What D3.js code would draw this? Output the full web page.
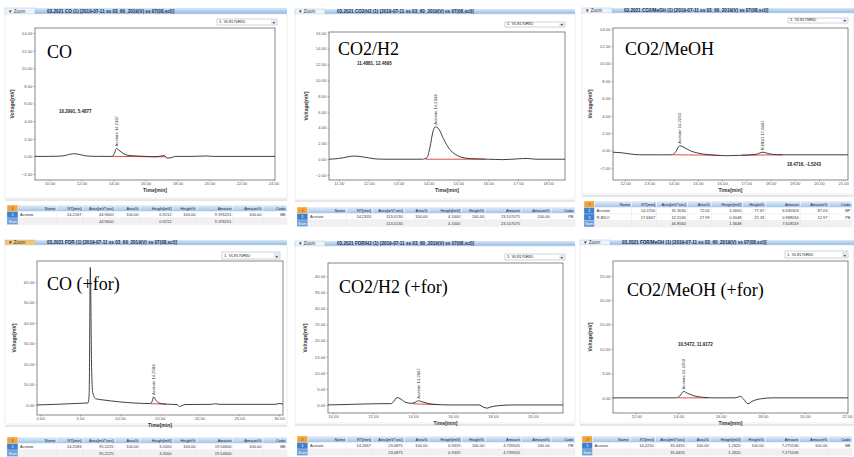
<!DOCTYPE html>
<html>
<head>
<meta charset="utf-8">
<script src="https://cdn.jsdelivr.net/npm/d3@7"></script>
<style>
  body { margin: 0; background: #fff; }
  svg { display: block; font-family: "Liberation Sans", Arial, sans-serif; }
</style>
</head>
<body>
<script>

// chart names
var panelNames = ["CO", "CO2/H2", "CO2/MeOH", "CO (+for)", "CO2/H2 (+for)", "CO2/MeOH (+for)"];

var titles = [
  "03.2021 CO (1) [2019-07-11 ss 03_60_2019(V) ss 07(08,scl)]",
  "03.2021 CO2/H2 (1) [2019-07-11 ss 03_60_2019(V) ss 07(08,scl)]",
  "03.2021 CO2/MeOH (1) [2019-07-11 ss 03_60_2019(V) ss 07(08,scl)]",
  "03.2021 FOR (1) [2019-07-11 ss 03_60_2019(V) ss 07(08,scl)]",
  "03.2021 FOR/H2 (1) [2019-07-11 ss 03_60_2019(V) ss 07(08,scl)]",
  "03.2021 FOR/MeOH (1) [2019-07-11 ss 03_60_2019(V) ss 07(08,scl)]"
];

var channel = "1. VL9170RID";

// axis domains and ticks  [time min], [mV]
var xDomains = [[9.1, 24.1], [10.67, 18.57], [11.5, 21.2], [-0.4, 30.5], [9.75, 21.5], [10.9, 22.05]];
var yDomains = [[-2.68, 14.57], [-2.63, 16.1], [-3.4, 14.1], [-4.9, 70.2], [-2.5, 44.1], [-3.1, 28]];
var xTicks = [
  [10, 12, 14, 16, 18, 20, 22, 24],
  [11, 12, 13, 14, 15, 16, 17, 18],
  [12, 13, 14, 15, 16, 17, 18, 19, 20, 21],
  [0, 5, 10, 15, 20, 25, 30],
  [10, 12, 14, 16, 18, 20],
  [12, 14, 16, 18, 20, 22]
];
var yTicks = [
  [-2, 0, 2, 4, 6, 8, 10, 12, 14],
  [-2, 0, 2, 4, 6, 8, 10, 12, 14, 16],
  [-2, 0, 2, 4, 6, 8, 10, 12, 14],
  [0, 10, 20, 30, 40, 50, 60],
  [0, 5, 10, 15, 20, 25, 30, 35, 40],
  [0, 5, 10, 15, 20, 25]
];

// chromatograms [time, mV]
var traceCO = [[9.1,0],[10,0],[10.8,0.05],[11.2,0.2],[11.5,0.3],[11.8,0.25],[12.3,0.05],[13,0],[13.9,0],
  [14.05,0.3],[14.2,0.9],[14.35,0.7],[14.6,0.35],[14.9,0.12],[15.4,0.05],[16,0],[16.6,-0.05],[17,0.05],
  [17.2,0.1],[17.35,-0.2],[17.6,-0.15],[17.9,0],[19,0],[19.8,0.05],[20.2,0],[24.1,0]];
var traceCO2H2 = [[10.67,0],[11,0.1],[11.3,0.3],[11.5,0.4],[11.8,0.3],[12.2,0.05],[12.5,0],[13.8,0],
  [13.95,0.2],[14.05,1.5],[14.15,3.5],[14.23,4.1],[14.35,3.8],[14.5,2.6],[14.7,1.3],[14.9,0.6],[15.1,0.25],
  [15.4,0.08],[16,0],[16.5,-0.05],[17,0.05],[17.3,0.1],[17.6,0],[18.57,0]];
var traceCO2MeOH = [[11.5,-0.2],[11.8,-0.25],[12.2,-0.4],[12.6,-0.5],[13.5,-0.5],[13.95,-0.5],[14.1,-0.1],
  [14.25,0.55],[14.4,0.4],[14.7,-0.05],[15,-0.3],[15.5,-0.5],[16.2,-0.6],[16.8,-0.55],[17.4,-0.45],
  [17.6,-0.25],[17.7,-0.2],[17.9,-0.35],[18.3,-0.5],[21.2,-0.5]];
var traceCOfor = [[-0.4,0],[2,0.3],[5,0.8],[6,1],[6.15,5],[6.3,67],[6.45,20],[6.6,6],[7,3],[8,2.4],[10,1.5],
  [12,0.9],[13.8,0.7],[14,1.2],[14.25,3.9],[14.5,2.5],[14.9,1],[15.5,0.5],[16.5,0.3],[17.2,0.2],[17.5,-0.8],
  [17.8,-0.3],[18.2,0.2],[21.5,0.3],[22,0.6],[22.5,0.3],[29.5,0.3],[30,0.7],[30.5,0.4]];
var traceCO2H2for = [[9.75,0],[11,0.2],[12.5,0.4],[12.9,0.4],[13.05,1.2],[13.2,2.3],[13.35,2],[13.6,0.9],
  [13.9,0.5],[14.1,0.8],[14.27,1.3],[14.5,0.9],[14.8,0.4],[15.2,0.15],[15.8,0],[17.3,0],[17.5,-0.6],
  [17.7,-1],[17.9,-0.6],[18.3,-0.2],[19,0],[21.5,0]];
var traceCO2MeOHfor = [[10.9,0],[13.9,0],[14.05,0.3],[14.25,1.3],[14.45,0.9],[14.8,0.35],[15.2,0.1],
  [15.6,0],[16.7,0],[16.95,0.3],[17.1,-0.3],[17.3,-1.2],[17.55,-0.6],[17.9,-0.2],[18.5,0],[22.05,0]];
var traces = [traceCO, traceCO2H2, traceCO2MeOH, traceCOfor, traceCO2H2for, traceCO2MeOHfor];

// integration baselines (red)
var baselines = [
  [[[13.9,0],[17.25,-0.05]]],
  [[[13.9,0],[15.9,0]]],
  [[[14.0,-0.5],[15.9,-0.55]], [[16.8,-0.55],[18.5,-0.5]]],
  [[[13.9,0.6],[15.9,0.4]]],
  [[[14.0,0.35],[15.3,0.1]]],
  [[[14.0,0],[15.4,0]]]
];

// peak labels: name, RT, apex
var peakNames = [["Acetate"], ["Acetate"], ["Acetate", "R-BDO"], ["Acetate"], ["Acetate"], ["Acetate"]];
var peakRT = [[14.2167], [14.2333], [14.2250, 17.6667], [14.2583], [14.2667], [14.2250]];
var peakApex = [[0.9], [4.1], [0.55, -0.2], [3.9], [1.3], [1.3]];

// cursor readouts
var cursorText = ["10.2991, 5.4877", "11.4881, 12.4695", "18.4716, -1.5243", "", "", "10.5472, 11.9172"];

// result tables
var tableCols = ["#", "Name", "RT[min]", "Area[mV*sec]", "Area%", "Height[mV]", "Height%", "Amount", "Amount%", "Code"];
var tableRows = [
  [["1","Acetate","14.2167","44.9600","100.00","0.9212","100.00","9.376251","100.00","BB"],
   ["Sum","","","44.9600","","0.9212","","9.376251","",""]],
  [["1","Acetate","14.2333","113.0130","100.00","4.1000","100.00","23.107075","100.00","PB"],
   ["Sum","","","113.0130","","4.1000","","23.107075","",""]],
  [["1","Acetate","14.2250","32.3030","72.01","1.0600","77.67","6.630503","87.03","BP"],
   ["2","R-BDO","17.6667","12.5530","27.99","0.3048","22.33","0.988016","12.97","PB"],
   ["Sum","","","44.8560","","1.3648","","7.618519","",""]],
  [["1","Acetate","14.2583","95.2225","100.00","3.2000","100.00","19.54600","100.00","BB"],
   ["Sum","","","95.2225","","3.2000","","19.54600","",""]],
  [["1","Acetate","14.2667","23.0875","100.00","0.9419","100.00","4.739505","100.00","PB"],
   ["Sum","","","23.0875","","0.9419","","4.739505","",""]],
  [["1","Acetate","14.2250","35.4455","100.00","1.2620","100.00","7.275536","100.00","BB"],
   ["Sum","","","35.4455","","1.2620","","7.275536","",""]]
];
var colWidths = [11, 39, 26, 32, 25, 33, 24, 36, 30, 24];

// layout of each screenshot (pixels)
var layout = [
  {bar:[5,8,287,14], frame:[35,28,275,180], drop:[217,19,277,25], table:[7,205,280], label:[47,58], cursor:[59,113], sep:198, tab:"#eef4fb"},
  {bar:[295,9,575,14], frame:[329,32,565,180], drop:[505,22,565,27], table:[297,207,278], label:[338,55], cursor:[357,65], sep:199, tab:"#eef4fb"},
  {bar:[582,8,854,13], frame:[613,28,848,180], drop:[788,18,848,23], table:[584,201,268], label:[625,55], cursor:[787,166], sep:194, tab:"#eef4fb"},
  {bar:[5,240,287,245], frame:[37,261,283,415], drop:[222,252,280,259], table:[7,437,280], label:[47,290], cursor:[0,0], sep:424, tab:"#f6c56a"},
  {bar:[295,241,575,246], frame:[328,263,563,413], drop:[505,254,565,260], table:[297,436,278], label:[339,293], cursor:[0,0], sep:423, tab:"#eef4fb"},
  {bar:[580,240,854,245], frame:[613,261,848,413], drop:[785,251,848,258], table:[582,436,270], label:[627,296], cursor:[678,346], sep:423, tab:"#eef4fb"}
];

var svg = d3.select("body").append("svg")
  .attr("width", 854)
  .attr("height", 457);

var defs = svg.append("defs");
var grad = defs.append("linearGradient").attr("id", "barGrad").attr("x1", 0).attr("y1", 0).attr("x2", 0).attr("y2", 1);
grad.append("stop").attr("offset", "0%").attr("stop-color", "#d9e8f8");
grad.append("stop").attr("offset", "100%").attr("stop-color", "#8fb8e6");
var hgrad = defs.append("linearGradient").attr("id", "headGrad").attr("x1", 0).attr("y1", 0).attr("x2", 0).attr("y2", 1);
hgrad.append("stop").attr("offset", "0%").attr("stop-color", "#e3eefa");
hgrad.append("stop").attr("offset", "100%").attr("stop-color", "#9ec2ea");

var fmt2 = d3.format(".2f");

panelNames.forEach(function(name, i) {
  var L = layout[i];
  var g = svg.append("g");
  var f = L.frame;

  // title bar
  g.append("rect").attr("x", L.bar[0]).attr("y", L.bar[1])
    .attr("width", L.bar[2] - L.bar[0]).attr("height", L.bar[3] - L.bar[1])
    .attr("fill", "url(#barGrad)");
  g.append("rect").attr("x", L.bar[0]).attr("y", L.bar[1])
    .attr("width", 30).attr("height", L.bar[3] - L.bar[1])
    .attr("fill", L.tab).attr("stroke", "#9bbbe0").attr("stroke-width", 0.4);
  g.append("text").attr("x", L.bar[0] + 3).attr("y", L.bar[3] - 1.2)
    .attr("font-size", 4.5).attr("fill", "#334").text("\u25BC Zoom");
  g.append("text").attr("x", L.bar[0] + 42).attr("y", L.bar[3] - 1.2)
    .attr("font-size", 4.6).attr("font-weight", "bold").attr("fill", "#1d2a4a").text(titles[i]);

  // panel frame (light)
  g.append("rect").attr("x", L.bar[0]).attr("y", L.bar[3])
    .attr("width", L.bar[2] - L.bar[0]).attr("height", L.sep - L.bar[3])
    .attr("fill", "#fff").attr("stroke", "#e2e2e2").attr("stroke-width", 0.6);
  g.append("line").attr("x1", L.bar[0]).attr("x2", L.bar[2]).attr("y1", L.sep + 2).attr("y2", L.sep + 2)
    .attr("stroke", "#cfcfcf").attr("stroke-width", 1);

  // channel dropdown
  var dd = L.drop;
  g.append("rect").attr("x", dd[0]).attr("y", dd[1]).attr("width", dd[2] - dd[0]).attr("height", dd[3] - dd[1])
    .attr("fill", "#fff").attr("stroke", "#9aa6b6").attr("stroke-width", 0.5);
  g.append("rect").attr("x", dd[2] - 6).attr("y", dd[1] + 0.5).attr("width", 5.5).attr("height", dd[3] - dd[1] - 1)
    .attr("fill", "#dfe8f4");
  g.append("text").attr("x", dd[2] - 3.2).attr("y", dd[3] - 1.5).attr("text-anchor", "middle")
    .attr("font-size", 3.5).attr("fill", "#334").text("\u25BC");
  g.append("text").attr("x", dd[0] + 2).attr("y", dd[3] - 1.6)
    .attr("font-size", 4.2).attr("fill", "#222").text(channel);

  // scales
  var x = d3.scaleLinear().domain(xDomains[i]).range([f[0], f[2]]);
  var y = d3.scaleLinear().domain(yDomains[i]).range([f[3], f[1]]);

  var xAxis = g.append("g").attr("transform", "translate(0," + f[3] + ")")
    .call(d3.axisBottom(x).tickValues(xTicks[i]).tickFormat(fmt2).tickSize(1.5).tickPadding(0.8));
  var yAxis = g.append("g").attr("transform", "translate(" + f[0] + ",0)")
    .call(d3.axisLeft(y).tickValues(yTicks[i]).tickFormat(fmt2).tickSize(1.5).tickPadding(1.2));
  [xAxis, yAxis].forEach(function(a) {
    a.select(".domain").remove();
    a.selectAll("line").attr("stroke", "#666").attr("stroke-width", 0.5);
    a.selectAll("text").attr("font-size", 4.2).attr("fill", "#555").attr("font-family", "Liberation Sans, Arial");
  });

  // plot frame
  g.append("rect").attr("x", f[0]).attr("y", f[1]).attr("width", f[2] - f[0]).attr("height", f[3] - f[1])
    .attr("fill", "none").attr("stroke", "#6a6a6a").attr("stroke-width", 0.8);

  g.append("text").attr("x", (f[0] + f[2]) / 2).attr("y", f[3] + 11.5).attr("text-anchor", "middle")
    .attr("font-size", 5).attr("font-weight", "bold").attr("fill", "#333").text("Time[min]");
  g.append("text").attr("transform", "translate(" + (f[0] - 21) + "," + ((f[1] + f[3]) / 2) + ") rotate(-90)")
    .attr("text-anchor", "middle").attr("font-size", 5).attr("font-weight", "bold").attr("fill", "#333")
    .text("Voltage[mV]");

  // data
  defs.append("clipPath").attr("id", "clip" + i).append("rect")
    .attr("x", f[0]).attr("y", f[1]).attr("width", f[2] - f[0]).attr("height", f[3] - f[1]);
  var plot = g.append("g").attr("clip-path", "url(#clip" + i + ")");

  var line = d3.line().x(function(d) { return x(d[0]); }).y(function(d) { return y(d[1]); })
    .curve(d3.curveMonotoneX);

  plot.selectAll(".base").data(baselines[i]).enter().append("path")
    .attr("d", d3.line().x(function(d) { return x(d[0]); }).y(function(d) { return y(d[1]); }))
    .attr("fill", "none").attr("stroke", "#d81e1e").attr("stroke-width", 0.8);

  plot.append("path").datum(traces[i]).attr("d", line)
    .attr("fill", "none").attr("stroke", "#2b2b2b").attr("stroke-width", 0.9);

  // peak labels
  peakNames[i].forEach(function(pn, k) {
    var px = x(peakRT[i][k]), py = y(peakApex[i][k]) - 2;
    g.append("text").attr("transform", "translate(" + (px + 1.5) + "," + py + ") rotate(-90)")
      .attr("font-size", 4.2).attr("fill", "#333").text(pn + " " + peakRT[i][k].toFixed(4));
  });

  // cursor readout
  if (cursorText[i]) {
    g.append("text").attr("x", L.cursor[0]).attr("y", L.cursor[1])
      .attr("font-size", 4.5).attr("font-weight", "bold").attr("fill", "#222").text(cursorText[i]);
  }

  // sample label
  g.append("text").attr("x", L.label[0]).attr("y", L.label[1])
    .attr("font-family", "Liberation Serif, Times New Roman, serif").attr("font-size", 18)
    .attr("fill", "#000").text(name);

  // result table
  var tx = L.table[0], ty = L.table[1], rh = 6.5;
  var k = L.table[2] / d3.sum(colWidths);
  var cw = colWidths.map(function(w) { return w * k; });
  var colX = [];
  cw.reduce(function(acc, w) { colX.push(acc); return acc + w; }, tx);
  tableCols.forEach(function(c, j) {
    g.append("rect").attr("x", colX[j]).attr("y", ty).attr("width", cw[j]).attr("height", rh)
      .attr("fill", j === 0 ? "#f2a33a" : "url(#headGrad)").attr("stroke", "#fff").attr("stroke-width", 0.4);
    var t = g.append("text").attr("y", ty + rh - 1.6)
      .attr("font-size", 4.0).attr("fill", "#1d2a4a").text(c);
    if (j === 0) t.attr("x", colX[j] + cw[j] / 2).attr("text-anchor", "middle");
    else t.attr("x", colX[j] + cw[j] - 1.5).attr("text-anchor", "end");
  });
  tableRows[i].forEach(function(row, r) {
    var ry = ty + rh + r * rh;
    row.forEach(function(cell, j) {
      var isSum = row[0] === "Sum";
      var fill = j === 0 ? (isSum ? "#6d9fd8" : "#3c80cf") : (isSum ? "#f1f1f1" : "#fff");
      g.append("rect").attr("x", colX[j]).attr("y", ry).attr("width", cw[j]).attr("height", rh)
        .attr("fill", fill).attr("stroke", "#e4e4e4").attr("stroke-width", 0.3);
      if (cell === "") return;
      var t = g.append("text").attr("y", ry + rh - 1.6).attr("font-size", 4.0)
        .attr("fill", j === 0 ? "#fff" : "#333").text(cell);
      if (j === 1) t.attr("x", colX[j] + 2);
      else if (j === 0) t.attr("x", colX[j] + cw[j] / 2).attr("text-anchor", "middle");
      else t.attr("x", colX[j] + cw[j] - 1.5).attr("text-anchor", "end");
    });
  });
});
</script>
</body>
</html>
